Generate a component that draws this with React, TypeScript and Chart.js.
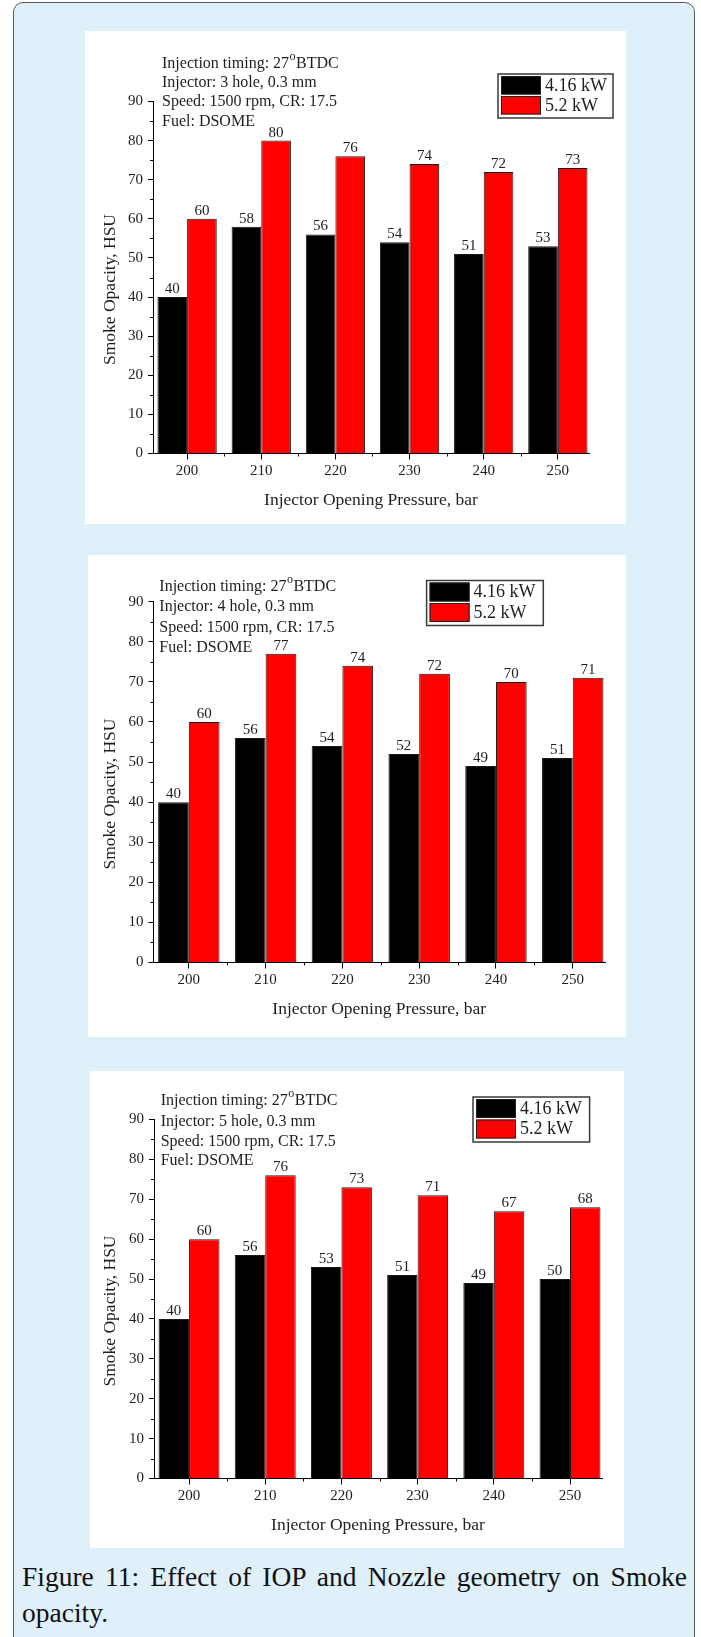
import React, { useEffect, useRef } from 'react';
import { Chart, registerables } from 'chart.js';

Chart.register(...registerables);

// ---------- data ----------
const categories = [200, 210, 220, 230, 240, 250];
const seriesLabels = ['4.16 kW', '5.2 kW'];

const hole3Low = [40, 58, 56, 54, 51, 53];
const hole3High = [60, 80, 76, 74, 72, 73];
const hole4Low = [40, 56, 54, 52, 49, 51];
const hole4High = [60, 77, 74, 72, 70, 71];
const hole5Low = [40, 56, 53, 51, 49, 50];
const hole5High = [60, 76, 73, 71, 67, 68];

const yMin = 0;
const yMax = 90;
const yStep = 10;
const xStep = 10;
const xMin = 195.4;
const xMax = 254.2;

const xAxisTitle = 'Injector Opening Pressure, bar';
const yAxisTitle = 'Smoke Opacity, HSU';
const timingNote = ['Injection timing: 27', 'o', 'BTDC'];
const injector3 = 'Injector: 3 hole, 0.3 mm';
const injector4 = 'Injector: 4 hole, 0.3 mm';
const injector5 = 'Injector: 5 hole, 0.3 mm';
const speedNote = 'Speed: 1500 rpm, CR: 17.5';
const fuelNote = 'Fuel: DSOME';
const captionText = 'Figure 11: Effect of IOP and Nozzle geometry on Smoke opacity.';

// ---------- layout (absolute page coordinates) ----------
const panels = [
  {
    low: hole3Low, high: hole3High, injector: injector3,
    box: { left: 85, top: 31, width: 541, height: 493 },
    area: { left: 153, right: 589, top: 101.5, bottom: 453.5 },
    notes: { x: 162, y: [63.3, 82.3, 101.7, 121.7] },
    legend: { x: 498, y: 74, w: 115, h: 44 },
  },
  {
    low: hole4Low, high: hole4High, injector: injector4,
    box: { left: 88, top: 555, width: 538, height: 482 },
    area: { left: 153.5, right: 605, top: 601.7, bottom: 962.5 },
    notes: { x: 159.3, y: [586.7, 606.7, 627.3, 647.3] },
    legend: { x: 426.6, y: 580.5, w: 116.7, h: 45 },
  },
  {
    low: hole5Low, high: hole5High, injector: injector5,
    box: { left: 90, top: 1071, width: 534, height: 477 },
    area: { left: 154, right: 602, top: 1119.5, bottom: 1478.5 },
    notes: { x: 160.7, y: [1100.7, 1121.7, 1141.7, 1161] },
    legend: { x: 473, y: 1097, w: 116.6, h: 45 },
  },
];

const FONT = '"Liberation Serif", "Times New Roman", serif';
const TEXT = '#1e1e1e';
const Y_W = 45;
const X_H = 30;

function makeDecor(cfg: any) {
  return {
    id: 'decor',
    afterDraw(chart: any) {
      const ctx = chart.ctx as CanvasRenderingContext2D;
      const ox = cfg.box.left;
      const oy = cfg.box.top;
      const xs = chart.scales.x;
      const ys = chart.scales.y;
      const ca = chart.chartArea;
      ctx.save();

      // minor ticks
      ctx.strokeStyle = '#000';
      ctx.lineWidth = 1;
      ctx.beginPath();
      for (let v = categories[0] + xStep / 2; v < categories[categories.length - 1]; v += xStep) {
        const px = Math.round(xs.getPixelForValue(v)) + 0.5;
        ctx.moveTo(px, ca.bottom);
        ctx.lineTo(px, ca.bottom + 3);
      }
      for (let v = yMin + yStep / 2; v < yMax; v += yStep) {
        const py = Math.round(ys.getPixelForValue(v)) + 0.5;
        ctx.moveTo(ca.left - 3, py);
        ctx.lineTo(ca.left, py);
      }
      ctx.stroke();

      // data labels
      ctx.fillStyle = TEXT;
      ctx.font = `15px ${FONT}`;
      ctx.textAlign = 'center';
      ctx.textBaseline = 'middle';
      chart.data.datasets.forEach((ds: any, di: number) => {
        const meta = chart.getDatasetMeta(di);
        meta.data.forEach((el: any, i: number) => {
          ctx.fillText(String(ds.data[i].y), el.x, el.y - 8);
        });
      });

      // annotation notes
      ctx.textAlign = 'left';
      ctx.font = `16px ${FONT}`;
      const nx = cfg.notes.x - ox;
      const ny = cfg.notes.y.map((v: number) => v - oy);
      ctx.fillText(timingNote[0], nx, ny[0]);
      const w0 = ctx.measureText(timingNote[0]).width;
      ctx.font = `12px ${FONT}`;
      ctx.fillText(timingNote[1], nx + w0 + 0.5, ny[0] - 6.5);
      const w1 = ctx.measureText(timingNote[1]).width;
      ctx.font = `16px ${FONT}`;
      ctx.fillText(timingNote[2], nx + w0 + w1 + 1, ny[0]);
      ctx.fillText(cfg.injector, nx, ny[1]);
      ctx.fillText(speedNote, nx, ny[2]);
      ctx.fillText(fuelNote, nx, ny[3]);

      // legend
      const lx = cfg.legend.x - ox;
      const ly = cfg.legend.y - oy;
      const lw = cfg.legend.w;
      const lh = cfg.legend.h;
      ctx.fillStyle = '#fff';
      ctx.fillRect(lx, ly, lw, lh);
      ctx.strokeStyle = '#3a3a3a';
      ctx.lineWidth = 1.5;
      ctx.strokeRect(lx, ly, lw, lh);
      const colors = ['#000000', '#ff0000'];
      const rowH = (lh - 4) / 2;
      for (let r = 0; r < 2; r++) {
        const sy = ly + 2 + r * rowH;
        ctx.fillStyle = colors[r];
        ctx.fillRect(lx + 3, sy, 40, rowH - 1.5);
        ctx.strokeStyle = '#222';
        ctx.lineWidth = 1;
        ctx.strokeRect(lx + 3.5, sy + 0.5, 39, rowH - 2.5);
        ctx.fillStyle = TEXT;
        ctx.font = `18px ${FONT}`;
        ctx.textAlign = 'left';
        ctx.textBaseline = 'middle';
        ctx.fillText(seriesLabels[r], lx + 47, sy + rowH / 2);
      }

      // axis titles
      ctx.fillStyle = TEXT;
      ctx.font = `17.5px ${FONT}`;
      ctx.textAlign = 'center';
      ctx.textBaseline = 'middle';
      ctx.fillText(xAxisTitle, (ca.left + ca.right) / 2, ca.bottom + 47);
      ctx.translate(110 - ox, (ca.top + ca.bottom) / 2 + 12);
      ctx.rotate(-Math.PI / 2);
      ctx.fillText(yAxisTitle, 0, 0);
      ctx.restore();
    },
  };
}

function Panel({ cfg }: { cfg: any }) {
  const ref = useRef<HTMLCanvasElement>(null);
  useEffect(() => {
    const canvas = ref.current;
    if (!canvas) return;
    const { box, area } = cfg;
    const chart = new Chart(canvas, {
      type: 'bar',
      data: {
        datasets: [
          {
            label: seriesLabels[0],
            data: categories.map((x, i) => ({ x, y: cfg.low[i] })),
            backgroundColor: '#000000',
            borderColor: '#1a1a1a',
            borderWidth: 1,
          },
          {
            label: seriesLabels[1],
            data: categories.map((x, i) => ({ x, y: cfg.high[i] })),
            backgroundColor: '#ff0000',
            borderColor: '#1a1a1a',
            borderWidth: 1,
          },
        ],
      } as any,
      options: {
        responsive: false,
        animation: false,
        devicePixelRatio: 1,
        layout: {
          padding: {
            left: area.left - box.left - Y_W,
            right: box.left + box.width - area.right,
            top: area.top - box.top,
            bottom: box.top + box.height - area.bottom - X_H,
          },
        },
        datasets: { bar: { categoryPercentage: 0.8, barPercentage: 1.0 } },
        plugins: {
          legend: { display: false },
          tooltip: { enabled: false },
          title: { display: false },
        },
        scales: {
          x: {
            type: 'linear',
            min: xMin,
            max: xMax,
            offset: false,
            afterFit: (s: any) => { s.height = X_H; },
            ticks: {
              stepSize: xStep,
              includeBounds: false,
              color: TEXT,
              font: { family: FONT, size: 15 },
              padding: 3,
              maxRotation: 0,
              autoSkip: false,
            },
            grid: { drawOnChartArea: false, drawTicks: true, tickLength: 6, color: '#000', offset: false },
            border: { display: true, color: '#000', width: 1 },
          },
          y: {
            type: 'linear',
            min: yMin,
            max: yMax,
            afterFit: (s: any) => { s.width = Y_W; },
            ticks: {
              stepSize: yStep,
              color: TEXT,
              font: { family: FONT, size: 15 },
              padding: 5,
            },
            grid: { drawOnChartArea: false, drawTicks: true, tickLength: 5, color: '#000' },
            border: { display: true, color: '#000', width: 1 },
          },
        } as any,
      } as any,
      plugins: [makeDecor(cfg)],
    });
    return () => chart.destroy();
  }, [cfg]);

  return (
    <div
      style={{
        position: 'absolute',
        left: cfg.box.left,
        top: cfg.box.top,
        width: cfg.box.width,
        height: cfg.box.height,
        background: '#ffffff',
      }}
    >
      <canvas
        ref={ref}
        width={cfg.box.width}
        height={cfg.box.height}
        style={{ display: 'block', width: cfg.box.width, height: cfg.box.height }}
      />
    </div>
  );
}

export default function App() {
  return (
    <div style={{ position: 'absolute', left: 0, top: 0, width: 701, height: 1637, overflow: 'hidden', background: '#ffffff' }}>
      <div
        style={{
          position: 'absolute',
          left: 13,
          top: 2,
          width: 682,
          height: 1660,
          boxSizing: 'border-box',
          border: '1.5px solid #5a5a5a',
          borderRadius: 10,
          background: '#dff0fb',
        }}
      />
      {panels.map((p, i) => (
        <Panel key={i} cfg={p} />
      ))}
      <div
        style={{
          position: 'absolute',
          left: 22,
          top: 1559,
          width: 665,
          fontFamily: FONT,
          fontSize: 27.5,
          lineHeight: '36px',
          color: '#111',
          textAlign: 'justify',
        }}
      >
        {captionText}
      </div>
    </div>
  );
}
